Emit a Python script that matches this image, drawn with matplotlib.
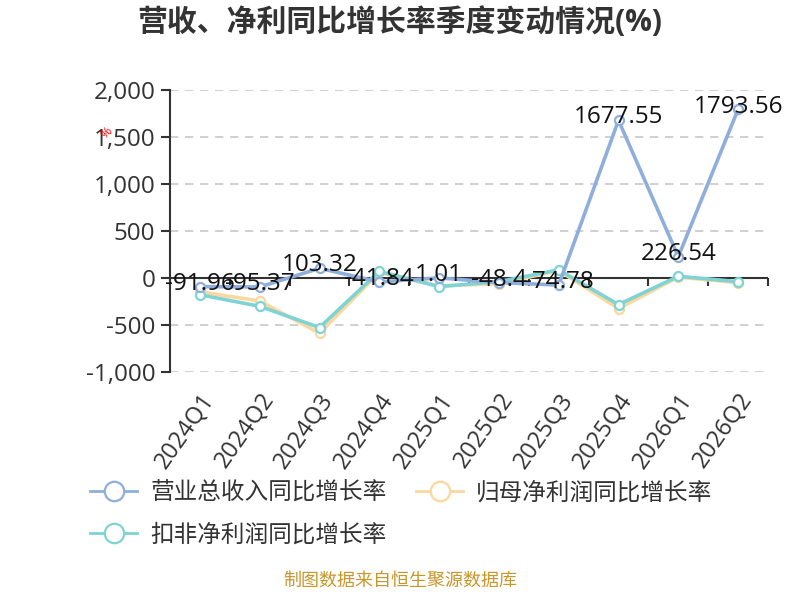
import matplotlib
matplotlib.use('Agg')
import matplotlib.pyplot as plt
from matplotlib.lines import Line2D

plt.rcParams['font.family'] = ['Open Sans', 'Noto Sans CJK SC', 'DejaVu Sans']
plt.rcParams['axes.unicode_minus'] = False

quarters = ['2024Q1', '2024Q2', '2024Q3', '2024Q4', '2025Q1', '2025Q2',
            '2025Q3', '2025Q4', '2026Q1', '2026Q2']
revenue = [-91.96, -95.37, 103.32, -41.84, 1.01, -48.4, -74.78, 1677.55, 226.54, 1793.56]
net_profit = [-146, -245, -587, 60, -85, -60, 80, -325, 10, -50]
deducted = [-178, -301, -527, 70, -91, -39, 87, -283, 18, -39]
yticks = [-1000, -500, 0, 500, 1000, 1500, 2000]

names = ['营业总收入同比增长率', '归母净利润同比增长率', '扣非净利润同比增长率']
colors = ['#8FAEDC', '#FDD89E', '#7FD3D4']

fig = plt.figure(figsize=(8, 6), dpi=100)
ax = fig.add_axes([0.2125, 0.38, 0.7475, 0.47])

x = list(range(len(quarters)))
series = [revenue, net_profit, deducted]
for vals, c, z in zip(series, colors, [5, 3, 4]):
    ax.plot(x, vals, color=c, lw=2.6, marker='o', ms=6.5, mfc='white',
            mec=c, mew=1.6, zorder=z)

for xi, v in zip(x, revenue):
    ax.text(xi, v + 30, f'{v:g}', ha='center', va='center',
            fontsize=17.5, color='#111111', zorder=6)

ax.set_xlim(-0.5, len(quarters) - 0.5)
ax.set_ylim(-1000, 2000)
ax.set_yticks(yticks)
ax.set_yticklabels([f'{t:,}' for t in yticks])
for t in yticks:
    if t != 0:
        ax.axhline(t, ls=(0, (5, 4)), color='#C8C8C8', lw=1.2, zorder=1)
ax.axhline(0, color='#333333', lw=1.5, zorder=2)

for s in ['top', 'right', 'bottom']:
    ax.spines[s].set_visible(False)
ax.spines['left'].set_color('#333333')
ax.spines['left'].set_linewidth(1.5)
ax.tick_params(axis='y', labelsize=17.5, labelcolor='#333333', length=6.5,
               width=1.5, color='#333333', pad=4)

ax.set_xticks(x)
ax.set_xticklabels(quarters, rotation=55, ha='right', rotation_mode='anchor',
                   fontsize=17, color='#333333')
ax.tick_params(axis='x', length=0, pad=12)

# category ticks on the zero line
zero = ax.secondary_xaxis(1 / 3)
zero.set_xticks([i - 0.5 for i in range(len(quarters) + 1)])
zero.set_xticklabels([])
zero.tick_params(length=6, width=1.5, color='#333333', direction='out')
zero.spines['bottom'].set_visible(False)

fig.text(0.133, 0.778, '%', color='red', fontsize=9, rotation=45,
         ha='center', va='center')

fig.text(0.5, 0.963, '营收、净利同比增长率季度变动情况(%)', ha='center', va='center',
         fontsize=21.5, fontweight='bold', color='#333333')

handles = [Line2D([0], [0], color=c, lw=2, marker='o', ms=14, mfc='white',
                  mec=c, mew=1.6) for c in colors]
fig.legend(handles[:2], names[:2], loc='center left',
           bbox_to_anchor=(0.1125, 0.178), ncol=2, frameon=False,
           fontsize=17, handlelength=2.0, columnspacing=1.25,
           handletextpad=0.55, borderpad=0, borderaxespad=0,
           labelcolor='#333333')
fig.legend(handles[2:], names[2:], loc='center left',
           bbox_to_anchor=(0.1125, 0.108), frameon=False, fontsize=17,
           handlelength=2.0, handletextpad=0.55, borderpad=0, borderaxespad=0,
           labelcolor='#333333')

fig.text(0.5, 0.018, '制图数据来自恒生聚源数据库', ha='center', va='bottom',
         fontsize=13, color='#C8962A')

fig.savefig('out.png', dpi=100)
